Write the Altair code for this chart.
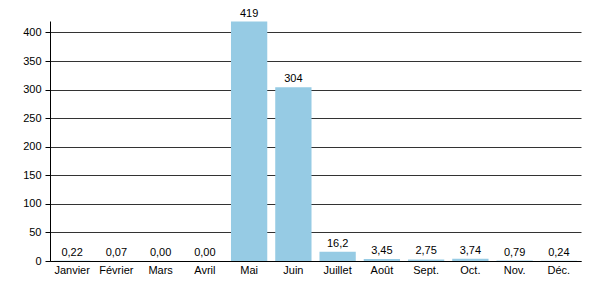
import altair as alt
import pandas as pd

months = ["Janvier", "Février", "Mars", "Avril", "Mai", "Juin", "Juillet", "Août", "Sept.", "Oct.", "Nov.", "Déc."]
values = [0.22, 0.07, 0.00, 0.00, 419, 304, 16.2, 3.45, 2.75, 3.74, 0.79, 0.24]
labels = ["0,22", "0,07", "0,00", "0,00", "419", "304", "16,2", "3,45", "2,75", "3,74", "0,79", "0,24"]
yticks = [0, 50, 100, 150, 200, 250, 300, 350, 400]

df = pd.DataFrame({"mois": months, "valeur": values, "label": labels})

x = alt.X("mois:N", sort=months, title=None,
          scale=alt.Scale(paddingInner=0.18, paddingOuter=0.09),
          axis=alt.Axis(labelAngle=0, ticks=False, domain=True, domainColor="#000",
                        labelColor="#000", labelFont="Liberation Sans", labelFontSize=11,
                        labelPadding=3, labelOverlap=False))
y = alt.Y("valeur:Q", title=None,
          scale=alt.Scale(domain=[0, 420], nice=False),
          axis=alt.Axis(values=yticks, labelOverlap=False, tickCount=9,
                        grid=True, gridColor="#333", gridWidth=1,
                        domain=True, domainColor="#000", tickColor="#000", tickSize=5,
                        labelColor="#000", labelFont="Liberation Sans", labelFontSize=11,
                        labelPadding=4))

bars = alt.Chart(df).mark_bar(color="#96cbe4").encode(x=x, y=y)
text = alt.Chart(df).mark_text(dy=-8, font="Liberation Sans", fontSize=11, color="#000").encode(
    x=alt.X("mois:N", sort=months), y="valeur:Q", text="label:N")

chart = (bars + text).properties(
    width=531, height=240,
    autosize=alt.AutoSizeParams(type="none"),
    padding={"left": 50, "top": 21, "right": 19, "bottom": 39},
).configure_view(stroke=None)

chart.save("out.html", embed_options={"renderer": "svg", "actions": False})
